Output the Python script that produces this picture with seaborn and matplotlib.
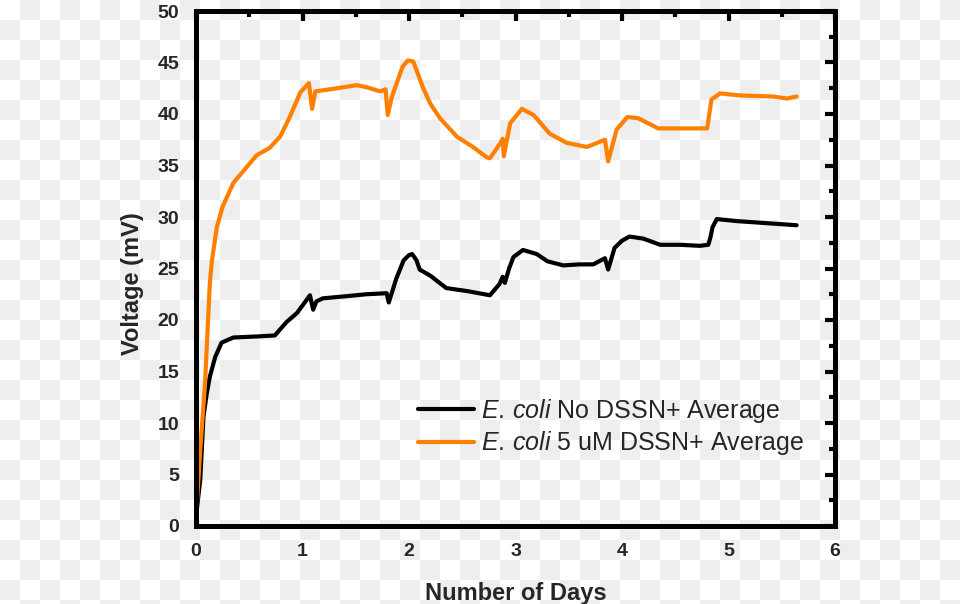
"""
Voltage over time for E. coli with / without DSSN+
"""
import numpy as np
import pandas as pd
import matplotlib
matplotlib.use('Agg')
import matplotlib.pyplot as plt
import seaborn as sns

# data
days_no = [0, 0.04, 0.07, 0.10, 0.13, 0.18, 0.24, 0.35, 0.57, 0.74, 0.85, 0.95,
           1.07, 1.10, 1.13, 1.19, 1.40, 1.60, 1.79, 1.81, 1.88, 1.95, 2.00,
           2.03, 2.07, 2.10, 2.20, 2.35, 2.55, 2.76, 2.85, 2.88, 2.90, 2.94,
           2.98, 3.07, 3.20, 3.30, 3.45, 3.60, 3.73, 3.84, 3.87, 3.93, 4.00,
           4.07, 4.20, 4.36, 4.55, 4.73, 4.81, 4.83, 4.85, 4.89, 5.08, 5.36,
           5.64]
volt_no = [0.9, 4.5, 10.6, 12.8, 14.5, 16.4, 17.8, 18.3, 18.4, 18.5, 19.8, 20.7,
           22.4, 21.0, 21.8, 22.1, 22.3, 22.5, 22.6, 21.7, 24.0, 25.8, 26.3,
           26.4, 25.8, 24.9, 24.3, 23.1, 22.8, 22.4, 23.5, 24.2, 23.6, 25.0,
           26.1, 26.8, 26.4, 25.7, 25.3, 25.4, 25.4, 26.0, 24.9, 27.0, 27.7,
           28.1, 27.9, 27.3, 27.3, 27.2, 27.3, 28.0, 29.0, 29.8, 29.6, 29.4,
           29.2]

days_5um = [0, 0.04, 0.085, 0.13, 0.15, 0.195, 0.25, 0.35, 0.48, 0.57, 0.69,
            0.79, 0.88, 0.98, 1.06, 1.09, 1.12, 1.26, 1.51, 1.60, 1.73, 1.78,
            1.80, 1.84, 1.94, 1.99, 2.04, 2.13, 2.20, 2.29, 2.45, 2.60, 2.73,
            2.76, 2.86, 2.88, 2.89, 2.95, 3.06, 3.17, 3.32, 3.48, 3.67, 3.84,
            3.87, 3.95, 4.05, 4.15, 4.34, 4.64, 4.80, 4.84, 4.92, 5.11, 5.42,
            5.55, 5.64]
volt_5um = [0.9, 7.4, 13.9, 23.6, 25.8, 29.0, 31.0, 33.3, 34.9, 36.0, 36.7,
            37.8, 39.7, 42.1, 43.0, 40.5, 42.2, 42.4, 42.8, 42.6, 42.2, 42.4,
            39.9, 41.7, 44.6, 45.2, 45.1, 42.6, 41.0, 39.6, 37.8, 36.8, 35.8,
            35.7, 37.2, 37.6, 35.9, 39.1, 40.5, 39.9, 38.1, 37.2, 36.8, 37.5,
            35.4, 38.5, 39.7, 39.6, 38.6, 38.6, 38.6, 41.4, 42.0, 41.8, 41.7,
            41.5, 41.7]

labels = [r'$\it{E.\,coli}$ No DSSN+ Average',
          r'$\it{E.\,coli}$ 5 uM DSSN+ Average']
colors = ['#000000', '#FF8000']

df = pd.concat([
    pd.DataFrame({'day': days_no, 'mv': volt_no, 'series': labels[0]}),
    pd.DataFrame({'day': days_5um, 'mv': volt_5um, 'series': labels[1]}),
])

sns.set_style('white')
plt.rcParams['font.family'] = ['Liberation Sans', 'DejaVu Sans']
plt.rcParams['mathtext.fontset'] = 'custom'
plt.rcParams['mathtext.rm'] = 'Liberation Sans'
plt.rcParams['mathtext.it'] = 'Liberation Sans:italic'

fig = plt.figure(figsize=(9.6, 6.04), dpi=100)
fig.patch.set_facecolor('white')

# checkerboard backdrop (transparent png look)
yy, xx = np.mgrid[0:604, 0:960]
board = np.where(((xx // 20) + (yy // 20)) % 2 == 1, 0.933, 1.0)
fig.figimage(board, cmap='gray', vmin=0, vmax=1, origin='upper', zorder=-5)

ax = fig.add_axes([196 / 960, 78 / 604, 639 / 960, 515 / 604])
ax.set_zorder(1)
ax.patch.set_alpha(0)

sns.lineplot(data=df, x='day', y='mv', hue='series', palette=colors,
             estimator=None, sort=False, linewidth=3, ax=ax, legend=False,
             solid_joinstyle='round', solid_capstyle='round')

ax.set_xlim(0, 6)
ax.set_ylim(0, 50)
ax.set_xticks(np.arange(0, 7, 1))
ax.set_xticks(np.arange(0.5, 6, 1), minor=True)
ax.set_yticks(np.arange(0, 55, 5))
ax.set_yticks(np.arange(2.5, 50, 5), minor=True)

for s in ax.spines.values():
    s.set_visible(True)
    s.set_linewidth(3.6)
    s.set_color('black')

ax.tick_params(which='major', direction='out', length=7, width=3, pad=5,
               labelsize=14, color='black')
ax.tick_params(which='minor', direction='out', length=4, width=3, color='black')
ax.tick_params(which='both', top=True, right=True)
# top and right ticks point inward
for t in ax.xaxis.get_major_ticks() + ax.xaxis.get_minor_ticks():
    t.tick2line.set_marker(matplotlib.lines.TICKDOWN)
for t in ax.yaxis.get_major_ticks() + ax.yaxis.get_minor_ticks():
    t.tick2line.set_marker(matplotlib.lines.TICKLEFT)
for lab in ax.get_xticklabels() + ax.get_yticklabels():
    lab.set_fontweight('bold')

ax.set_xlabel('Number of Days', fontsize=17, fontweight='bold')
ax.set_ylabel('Voltage (mV)', fontsize=17, fontweight='bold')
ax.xaxis.set_label_coords(0.5, -0.108)
ax.yaxis.set_label_coords(-0.081, 0.47)

handles = [plt.Line2D([], [], color=c, lw=3) for c in colors]
ax.legend(handles, labels, loc='center left', bbox_to_anchor=(0.347, 0.192),
          frameon=False, fontsize=18, borderpad=0, borderaxespad=0,
          handlelength=2.25, handletextpad=0.3, labelspacing=0.18)

plt.savefig('out.png', dpi=100)
